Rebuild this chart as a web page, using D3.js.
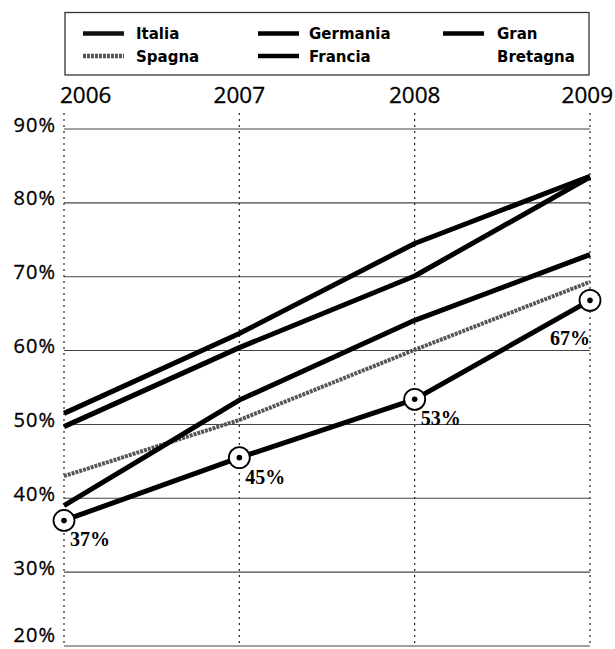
<!DOCTYPE html>
<html>
<head>
<meta charset="utf-8">
<script src="https://cdn.jsdelivr.net/npm/d3@7"></script>
<style>
  html, body { margin: 0; padding: 0; background: #fff; }
  svg { display: block; }
</style>
</head>
<body>
<svg id="chart" width="615" height="649"></svg>
<script>
// ---- data ----
const years = [2006, 2007, 2008, 2009];
const yTicks = [20, 30, 40, 50, 60, 70, 80, 90];
const italia = [37, 45.5, 53.4, 66.8];
const italiaLabels = ["37%", "45%", "53%", "67%"];
const spagna = [43, 50.6, 60.1, 69.3];
const germania = [51.5, 62.3, 74.5, 83.6];
const granBretagna = [49.7, 60.4, 70.1, 83.5];
const francia = [39, 53.3, 64.1, 73];
const seriesNames = ["Italia", "Spagna", "Germania", "Francia", "Gran Bretagna"];

// ---- layout ----
const svg = d3.select("#chart");
const x = d3.scaleLinear().domain([2006, 2009]).range([64, 590]);
const y = d3.scaleLinear().domain([20, 90]).range([646, 129]);

const styles = {
  "Italia":        { stroke: "#000", width: 5, dash: null },
  "Spagna":        { stroke: "#555", width: 4, dash: "3,1" },
  "Germania":      { stroke: "#000", width: 5, dash: null },
  "Francia":       { stroke: "#000", width: 5, dash: null },
  "Gran Bretagna": { stroke: "#000", width: 5, dash: null }
};
const seriesData = {
  "Italia": italia, "Spagna": spagna, "Germania": germania,
  "Francia": francia, "Gran Bretagna": granBretagna
};

// ---- legend box ----
svg.append("rect")
  .attr("x", 65).attr("y", 12.5).attr("width", 524).attr("height", 62.5)
  .attr("fill", "none").attr("stroke", "#333").attr("stroke-width", 1.3);

const legendPos = {
  "Italia":        { sx: 83,  tx: 136, row: 0 },
  "Spagna":        { sx: 83,  tx: 136, row: 1 },
  "Germania":      { sx: 258, tx: 309, row: 0 },
  "Francia":       { sx: 258, tx: 309, row: 1 },
  "Gran Bretagna": { sx: 443, tx: 497, row: 0 }
};
const legendFont = "'DejaVu Sans', sans-serif";
seriesNames.forEach(name => {
  const p = legendPos[name];
  const st = styles[name];
  const sy = p.row === 0 ? 33.5 : 56;
  svg.append("line")
    .attr("x1", p.sx).attr("x2", p.sx + 41)
    .attr("y1", sy).attr("y2", sy)
    .attr("stroke", name === "Italia" ? "#111" : st.stroke)
    .attr("stroke-width", 4.5)
    .attr("stroke-dasharray", st.dash);
  const t = svg.append("text")
    .attr("x", p.tx).attr("y", p.row === 0 ? 38.5 : 61.5)
    .attr("font-family", legendFont).attr("font-weight", "bold")
    .attr("font-size", 15).attr("fill", "#000");
  if (name === "Gran Bretagna") {
    t.append("tspan").attr("x", p.tx).attr("y", 38.5).text("Gran");
    t.append("tspan").attr("x", p.tx).attr("y", 61.5).text("Bretagna");
  } else {
    t.text(name);
  }
});

// ---- year labels ----
const sansFont = "'Open Sans', sans-serif";
svg.append("g").selectAll("text").data(years).join("text")
  .attr("x", d => d === 2006 ? x(d) - 4 : x(d))
  .attr("y", 103)
  .attr("text-anchor", d => d === 2006 ? "start" : (d === 2009 ? "end" : "middle"))
  .attr("dx", d => d === 2009 ? 23 : 0)
  .attr("font-family", sansFont).attr("font-size", 22.5).attr("fill", "#000")
  .attr("stroke", "#000").attr("stroke-width", 0.3)
  .text(d => d);

// ---- y grid and labels ----
svg.append("g").selectAll("line").data(yTicks).join("line")
  .attr("x1", x(2006)).attr("x2", x(2009))
  .attr("y1", d => y(d)).attr("y2", d => y(d))
  .attr("stroke", "#444").attr("stroke-width", 1.1);

svg.append("g").selectAll("text").data(yTicks).join("text")
  .attr("x", 56).attr("y", d => Math.min(y(d) + 2.5, 642))
  .attr("text-anchor", "end")
  .attr("font-family", sansFont).attr("font-size", 20)
  .attr("letter-spacing", 1)
  .attr("fill", "#000").attr("stroke", "#000").attr("stroke-width", 0.3)
  .text(d => d + "%");

// ---- vertical dotted lines ----
svg.append("g").selectAll("line").data(years).join("line")
  .attr("x1", d => x(d)).attr("x2", d => x(d))
  .attr("y1", 113).attr("y2", 646)
  .attr("stroke", "#222").attr("stroke-width", 1.2)
  .attr("stroke-dasharray", "2,4");

// ---- series lines ----
const line = d3.line().x((d, i) => x(years[i])).y(d => y(d));
["Spagna", "Francia", "Gran Bretagna", "Germania", "Italia"].forEach(name => {
  const st = styles[name];
  svg.append("path")
    .datum(seriesData[name])
    .attr("d", line)
    .attr("fill", "none")
    .attr("stroke", st.stroke)
    .attr("stroke-width", st.width)
    .attr("stroke-dasharray", st.dash)
    .attr("stroke-linejoin", "round");
});

// ---- Italia markers and labels ----
const mk = svg.append("g");
mk.selectAll("circle.ring").data(italia).join("circle")
  .attr("class", "ring")
  .attr("cx", (d, i) => x(years[i])).attr("cy", d => y(d))
  .attr("r", 10.5).attr("fill", "#fff").attr("stroke", "#000").attr("stroke-width", 1.8);
mk.selectAll("circle.dot").data(italia).join("circle")
  .attr("class", "dot")
  .attr("cx", (d, i) => x(years[i])).attr("cy", d => y(d))
  .attr("r", 2.8).attr("fill", "#000");

const last = italia.length - 1;
mk.selectAll("text").data(italia).join("text")
  .attr("x", (d, i) => x(years[i]) + (i === last ? 0 : 6))
  .attr("y", (d, i) => y(d) + (i === last ? 45 : 26))
  .attr("text-anchor", (d, i) => i === last ? "end" : "start")
  .attr("font-family", "'Liberation Serif', serif")
  .attr("font-weight", "bold").attr("font-size", 20).attr("fill", "#000")
  .text((d, i) => italiaLabels[i]);
</script>
</body>
</html>
